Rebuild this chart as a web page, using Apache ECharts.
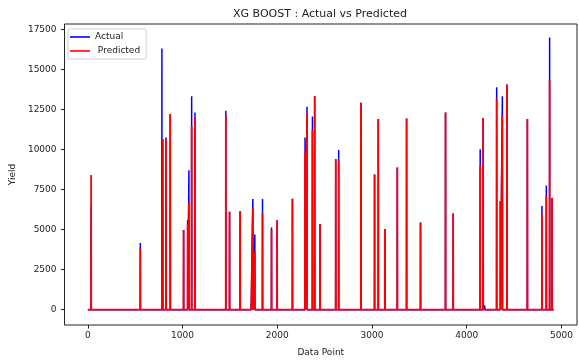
<!DOCTYPE html>
<html>
<head>
<meta charset="utf-8">
<script src="https://cdn.jsdelivr.net/npm/echarts@6/dist/echarts.min.js"></script>
<style>
  html, body { margin: 0; padding: 0; background: #fff; }
  #chart { width: 579px; height: 362px; }
</style>
</head>
<body>
<div id="chart"></div>
<script>
// data points run from index 0 to LAST_INDEX, everything not listed below is ~0
var LAST_INDEX = 4918

// spikes: index, actual, predicted
var spikeIdx = [35, 105, 193, 246, 320, 404, 530, 554, 782, 793, 825, 870, 1011, 1054, 1067, 1096, 1131, 1300,
  1457, 1496, 1608, 1724, 1742, 1763, 1844, 1939, 1998, 2160, 2293, 2314, 2371, 2395, 2451, 2617,
  2648, 2883, 3027, 3066, 3136, 3267, 3365, 3512, 3776, 3857, 4142, 4173, 4190, 4316, 4355, 4376,
  4425, 4640, 4794, 4840, 4875, 4900]
var actualVals = [6450, 0, 0, 0, 0, 0, 0, 4170, 16300, 0, 10750, 12200, 4980, 5590, 8700, 13320, 12300, 0,
  12420, 6120, 6140, 350, 6910, 4700, 6910, 5124, 5590, 6930, 10740, 12670, 12060, 13320, 5350, 9410,
  9960, 12910, 8440, 11900, 5040, 8870, 11940, 5450, 12300, 6000, 10020, 11960, 260, 13890, 6770, 13320,
  14050, 11900, 6470, 7750, 16980, 6970]
var predictedVals = [8400, 80, 110, 90, 120, 80, 100, 3820, 1050, 10650, 10650, 12220, 4980, 5350, 6670, 11450, 12020, -100,
  12100, 6120, 6140, 350, 6325, 3620, 6040, 5000, 5590, 6930, 9860, 12220, 11200, 13320, 5350, 9410,
  9310, 12910, 8440, 11900, 5040, 8870, 11940, 5450, 12300, 6000, 8970, 11960, 0, 13180, 6770, 12160,
  14050, 11900, 5960, 7080, 14300, 6970]

var xTicks = [0, 1000, 2000, 3000, 4000, 5000]
var yTicks = [0, 2500, 5000, 7500, 10000, 12500, 15000, 17500]

// zero baseline with the spikes; the neighbours of each spike are kept so it stays a thin vertical line
function buildSeries(vals) {
  var pts = [[0, 0]]
  spikeIdx.forEach(function (idx, k) {
    if (vals[k] === 0) return
    var last = pts[pts.length - 1][0]
    if (idx - 1 > last) pts.push([idx - 1, 0])
    pts.push([idx, vals[k]])
    pts.push([idx + 1, 0])
  })
  pts.push([LAST_INDEX, 0])
  return pts
}

var chart = echarts.init(document.getElementById('chart'), null, { renderer: 'canvas' })

var fontFamily = 'DejaVu Sans'
var textColor = '#222'
var plain = function (v) { return String(v) }

var option = {
  animation: false,
  backgroundColor: '#fff',
  title: {
    text: 'XG BOOST : Actual vs Predicted',
    left: 233,
    top: 9,
    padding: 0,
    textStyle: { fontFamily: fontFamily, fontSize: 11, fontWeight: 'normal', color: textColor }
  },
  legend: {
    orient: 'vertical',
    left: 68,
    top: 29,
    padding: [3, 6, 3, 2],
    icon: 'rect',
    itemWidth: 20,
    itemHeight: 1.6,
    itemGap: 4,
    backgroundColor: '#fff',
    borderColor: '#d0d0d0',
    borderWidth: 1,
    borderRadius: 2,
    textStyle: { fontFamily: fontFamily, fontSize: 9, lineHeight: 10, color: textColor },
    data: ['Actual', ' Predicted']
  },
  grid: {
    left: 63,
    right: 2,
    top: 24,
    bottom: 30,
    show: true,
    borderColor: '#222',
    borderWidth: 1,
    backgroundColor: 'transparent'
  },
  xAxis: {
    type: 'value',
    min: -246,
    max: 5164,
    name: 'Data Point',
    nameLocation: 'middle',
    nameGap: 23,
    nameTextStyle: { fontFamily: fontFamily, fontSize: 9, color: textColor },
    axisLine: { show: false, onZero: false },
    axisTick: { show: true, length: 3.5, customValues: xTicks, lineStyle: { color: '#222' } },
    axisLabel: { margin: 6, customValues: xTicks, formatter: plain, fontFamily: fontFamily, fontSize: 9, color: textColor },
    splitLine: { show: false }
  },
  yAxis: {
    type: 'value',
    min: -954,
    max: 17830,
    name: 'Yield',
    nameLocation: 'middle',
    nameRotate: 90,
    nameGap: 46,
    nameTextStyle: { fontFamily: fontFamily, fontSize: 9, color: textColor },
    axisLine: { show: false, onZero: false },
    axisTick: { show: true, length: 3.5, customValues: yTicks, lineStyle: { color: '#222' } },
    axisLabel: { margin: 8, customValues: yTicks, formatter: plain, fontFamily: fontFamily, fontSize: 9, color: textColor },
    splitLine: { show: false }
  },
  series: [
    {
      name: 'Actual',
      type: 'line',
      symbol: 'none',
      color: '#0000ff',
      lineStyle: { width: 1.5, color: '#0000ff', join: 'bevel' },
      data: buildSeries(actualVals)
    },
    {
      name: ' Predicted',
      type: 'line',
      symbol: 'none',
      color: '#ff0000',
      lineStyle: { width: 1.8, color: '#ff0000', join: 'bevel' },
      data: buildSeries(predictedVals)
    }
  ]
}

chart.setOption(option)
</script>
</body>
</html>
